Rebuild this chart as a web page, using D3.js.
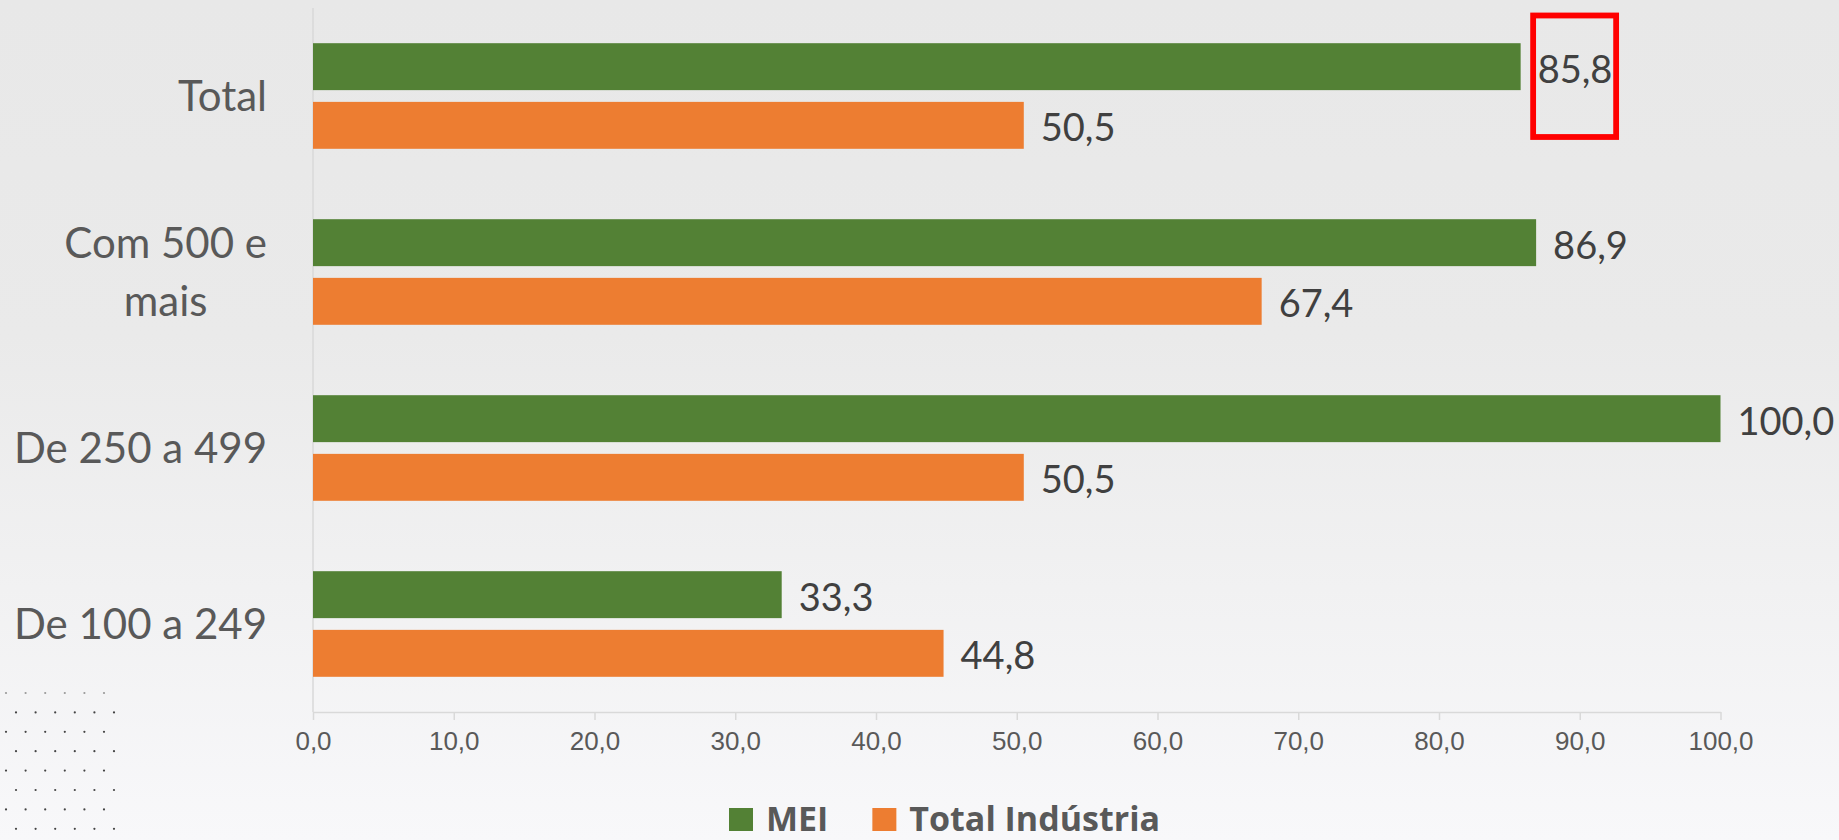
<!DOCTYPE html>
<html>
<head>
<meta charset="utf-8">
<script src="https://cdn.jsdelivr.net/npm/d3@7"></script>
<style>
  html, body { margin: 0; padding: 0; background: #f0f0f1; }
  svg { display: block; }
</style>
</head>
<body>
<div id="chart"></div>
<script>
(function() {

    // data
    var categories = ["Total", "Com 500 e mais", "De 250 a 499", "De 100 a 249"];
    var categoryLines = [["Total"], ["Com 500 e", "mais"], ["De 250 a 499"], ["De 100 a 249"]];
    var seriesNames = ["MEI", "Total Indústria"];
    var meiValues = [85.8, 86.9, 100.0, 33.3];
    var industriaValues = [50.5, 67.4, 50.5, 44.8];
    var xTicks = [0, 10, 20, 30, 40, 50, 60, 70, 80, 90, 100];
    var highlighted = { category: "Total", series: "MEI" };

    var colors = { "MEI": "#538135", "Total Indústria": "#ed7d31" };

    var width = 1839;
    var height = 840;

    var svg = d3.select("#chart").append("svg")
        .attr("width", width)
        .attr("height", height);

    // soft vertical background gradient
    var defs = svg.append("defs");
    var grad = defs.append("linearGradient")
        .attr("id", "bg")
        .attr("x1", 0).attr("y1", 0).attr("x2", 0).attr("y2", 1);
    grad.append("stop").attr("offset", "0%").attr("stop-color", "#e8e8e8");
    grad.append("stop").attr("offset", "40%").attr("stop-color", "#eaeaea");
    grad.append("stop").attr("offset", "100%").attr("stop-color", "#f8f8fa");
    svg.append("rect")
        .attr("width", width)
        .attr("height", height)
        .attr("fill", "url(#bg)");

    // dotted decoration bottom-left
    var dots = svg.append("g").attr("class", "dots");
    d3.range(8).forEach(function(r) {
        d3.range(6).forEach(function(c) {
            dots.append("circle")
                .attr("cx", (r % 2 ? 16 : 6) + c * 19.6)
                .attr("cy", 693 + r * 19.4)
                .attr("r", 1.1)
                .attr("fill", r === 0 ? "#999" : "#444");
        });
    });

    var x = d3.scaleLinear()
        .domain([0, 100])
        .range([313, 1720.5]);

    var y = d3.scaleBand()
        .domain(categories)
        .range([8, 712])
        .padding(0);

    var y1 = d3.scaleBand()
        .domain(seriesNames)
        .range([0, y.bandwidth()])
        .paddingInner(0.2)
        .paddingOuter(0.6);

    var rows = categories.map(function(c, i) {
        return { category: c, lines: categoryLines[i], values: [
            { series: "MEI", value: meiValues[i] },
            { series: "Total Indústria", value: industriaValues[i] }
        ] };
    });

    // x axis
    var xAxis = svg.append("g")
        .attr("class", "x-axis")
        .attr("transform", "translate(0," + y.range()[1] + ")")
        .call(d3.axisBottom(x)
            .tickValues(xTicks)
            .tickSize(8)
            .tickSizeOuter(0)
            .tickPadding(12)
            .tickFormat(function(d) { return d3.format(".1f")(d).replace(".", ","); }));
    xAxis.select(".domain").attr("stroke", "#d9d9d9").attr("stroke-width", 1.5);
    xAxis.selectAll(".tick line").attr("stroke", "#d9d9d9").attr("stroke-width", 1.5);
    xAxis.selectAll(".tick text")
        .attr("fill", "#595959")
        .attr("font-family", "'Liberation Sans', Arial, sans-serif")
        .attr("font-size", 26);

    // vertical category axis line
    svg.append("line")
        .attr("x1", x(0)).attr("x2", x(0))
        .attr("y1", y.range()[0]).attr("y2", y.range()[1])
        .attr("stroke", "#d9d9d9")
        .attr("stroke-width", 1.5);

    // bars
    var groups = svg.selectAll(".group")
        .data(rows)
        .enter().append("g")
        .attr("class", "group")
        .attr("transform", function(d) { return "translate(0," + y(d.category) + ")"; });

    groups.selectAll("rect")
        .data(function(d) { return d.values; })
        .enter().append("rect")
        .attr("x", x(0))
        .attr("y", function(d) { return y1(d.series); })
        .attr("width", function(d) { return x(d.value) - x(0); })
        .attr("height", y1.bandwidth())
        .attr("fill", function(d) { return colors[d.series]; });

    groups.selectAll(".value")
        .data(function(d) { return d.values; })
        .enter().append("text")
        .attr("class", "value")
        .attr("x", function(d) { return x(d.value) + 17; })
        .attr("y", function(d) { return y1(d.series) + y1.bandwidth() / 2 + 16; })
        .attr("fill", "#404040")
        .attr("font-family", "Lato, 'Open Sans', sans-serif")
        .attr("font-size", 38)
        .text(function(d) { return d3.format(".1f")(d.value).replace(".", ","); });

    // category labels
    groups.each(function(d) {
        var g = d3.select(this);
        var n = d.lines.length;
        var lineH = 58;
        var t = g.append("text")
            .attr("fill", "#595959")
            .attr("font-family", "Lato, 'Open Sans', sans-serif")
            .attr("font-size", 42)
            .attr("text-anchor", "middle");
        d.lines.forEach(function(line, i) {
            t.append("tspan")
                .attr("x", 0)
                .attr("y", y.bandwidth() / 2 + 15 + (i - (n - 1) / 2) * lineH)
                .text(line);
        });
        var w = t.node().getBBox().width;
        t.attr("transform", "translate(" + (267 - w / 2) + ",0)");
    });

    // red highlight box round the highlighted value
    var hiVal = meiValues[categories.indexOf(highlighted.category)];
    svg.append("rect")
        .attr("x", x(hiVal) + 12.5)
        .attr("y", y(highlighted.category) + 7.5)
        .attr("width", 83)
        .attr("height", 121.5)
        .attr("fill", "none")
        .attr("stroke", "#ff0000")
        .attr("stroke-width", 5.8);

    // legend
    var legend = svg.append("g").attr("class", "legend");
    var lx = 729;
    seriesNames.forEach(function(name) {
        legend.append("rect")
            .attr("x", lx)
            .attr("y", 808)
            .attr("width", 24)
            .attr("height", 23)
            .attr("fill", colors[name]);
        var txt = legend.append("text")
            .attr("x", lx + 37)
            .attr("y", 831)
            .attr("fill", "#595959")
            .attr("font-family", "'Open Sans', sans-serif")
            .attr("font-weight", "bold")
            .attr("font-size", 34)
            .text(name);
        lx += 37 + txt.node().getComputedTextLength() + 44;
    });

})();
</script>
</body>
</html>
